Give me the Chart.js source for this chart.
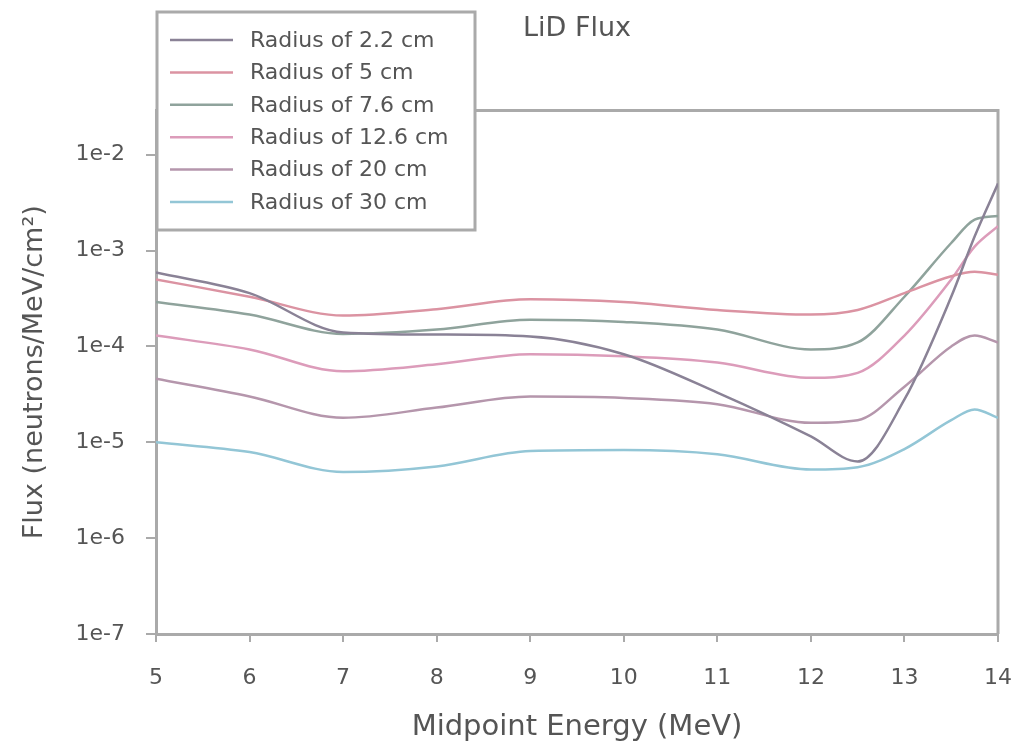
<!DOCTYPE html>
<html>
<head>
<meta charset="utf-8">
<script src="https://cdn.jsdelivr.net/npm/chart.js@4"></script>
<style>
  html, body { margin: 0; padding: 0; background: #fff; }
  #wrap { width: 1019px; height: 745px; }
</style>
</head>
<body>
<div id="wrap"><canvas id="fluxChart" width="1019" height="745"></canvas></div>
<script>
// midpoint energies (MeV) and flux, one array per radius
const energy = [5, 6, 7, 8, 9, 10, 11, 12, 12.5, 13, 13.5, 13.75, 14];

const r2_2 = [5.9e-4, 3.6e-4, 1.4e-4, 1.33e-4, 1.27e-4, 8.3e-5, 3.3e-5, 1.15e-5, 6.3e-6, 2.8e-5, 3.3e-4, 1.4e-3, 5e-3];
const r5 = [5e-4, 3.3e-4, 2.1e-4, 2.45e-4, 3.1e-4, 2.9e-4, 2.4e-4, 2.15e-4, 2.4e-4, 3.6e-4, 5.4e-4, 6e-4, 5.6e-4];
const r7_6 = [2.9e-4, 2.15e-4, 1.35e-4, 1.5e-4, 1.9e-4, 1.8e-4, 1.5e-4, 9.3e-5, 1.1e-4, 3.3e-4, 1.2e-3, 2.1e-3, 2.3e-3];
const r12_6 = [1.3e-4, 9.3e-5, 5.5e-5, 6.5e-5, 8.3e-5, 7.9e-5, 6.8e-5, 4.7e-5, 5.3e-5, 1.3e-4, 5e-4, 1.1e-3, 1.8e-3];
const r20 = [4.6e-5, 3e-5, 1.8e-5, 2.3e-5, 3e-5, 2.9e-5, 2.5e-5, 1.6e-5, 1.7e-5, 3.8e-5, 1e-4, 1.3e-4, 1.1e-4];
const r30 = [1e-5, 7.9e-6, 4.9e-6, 5.6e-6, 8.1e-6, 8.3e-6, 7.5e-6, 5.2e-6, 5.5e-6, 8.5e-6, 1.7e-5, 2.2e-5, 1.8e-5];

const seriesLabels = ['Radius of 2.2 cm', 'Radius of 5 cm', 'Radius of 7.6 cm', 'Radius of 12.6 cm', 'Radius of 20 cm', 'Radius of 30 cm'];
const seriesValues = [r2_2, r5, r7_6, r12_6, r20, r30];
const seriesColors = ['#8a8296', '#db93a2', '#8fa39c', '#dc9cba', '#b596ac', '#93c6d6'];

const yTicks = [1e-2, 1e-3, 1e-4, 1e-5, 1e-6, 1e-7];
const xTicks = [5, 6, 7, 8, 9, 10, 11, 12, 13, 14];

const FONT = "'DejaVu Sans', sans-serif";
const TEXT = '#555';
const AXIS = '#aaa';

// top and right edges of the plot frame
const frame = {
    id: 'frame',
    beforeDatasetsDraw(chart) {
        const { ctx, chartArea: a } = chart;
        ctx.save();
        ctx.strokeStyle = AXIS;
        ctx.lineWidth = 3;
        ctx.beginPath();
        ctx.moveTo(a.left, a.top);
        ctx.lineTo(a.right, a.top);
        ctx.lineTo(a.right, a.bottom);
        ctx.stroke();
        ctx.restore();
    },
};

// boxed legend in the upper left, overlapping the frame
const boxLegend = {
    id: 'boxLegend',
    afterDraw(chart) {
        const ctx = chart.ctx;
        ctx.save();
        ctx.fillStyle = '#fff';
        ctx.fillRect(157, 12, 318, 218);
        ctx.strokeStyle = AXIS;
        ctx.lineWidth = 3;
        ctx.strokeRect(157, 12, 318, 218);
        ctx.font = `22px ${FONT}`;
        ctx.textBaseline = 'middle';
        chart.data.datasets.forEach((ds, i) => {
            const y = 40 + i * 32.4;
            ctx.strokeStyle = ds.borderColor;
            ctx.lineWidth = 2.5;
            ctx.beginPath();
            ctx.moveTo(170, y);
            ctx.lineTo(233, y);
            ctx.stroke();
            ctx.fillStyle = TEXT;
            ctx.fillText(ds.label, 250, y + 1);
        });
        ctx.restore();
    },
};

new Chart(document.getElementById('fluxChart'), {
    type: 'line',
    data: {
        datasets: seriesLabels.map((label, i) => ({
            label: label,
            data: energy.map((e, j) => ({ x: e, y: seriesValues[i][j] })),
            borderColor: seriesColors[i],
            borderWidth: 2.5,
            pointRadius: 0,
            cubicInterpolationMode: 'monotone',
            fill: false,
        })),
    },
    options: {
        responsive: false,
        animation: false,
        layout: { padding: { left: 0, right: 21, top: 0, bottom: 0 } },
        plugins: {
            legend: { display: false },
            tooltip: { enabled: false },
            title: {
                display: true,
                text: 'LiD Flux',
                fullSize: false,
                color: TEXT,
                font: { family: FONT, size: 27, weight: 'normal' },
                padding: { top: 13, bottom: 65 },
            },
        },
        scales: {
            x: {
                type: 'linear',
                min: 5,
                max: 14,
                afterFit: s => {
                    s.height = 111;
                    s.paddingLeft = 0;
                    s.paddingRight = 0;
                },
                afterBuildTicks: s => { s.ticks = xTicks.map(v => ({ value: v })); },
                ticks: {
                    color: TEXT,
                    padding: 23,
                    font: { family: FONT, size: 22 },
                    maxRotation: 0,
                },
                grid: { drawOnChartArea: false, color: AXIS, tickLength: 8, lineWidth: 2 },
                border: { color: AXIS, width: 3 },
                title: {
                    display: true,
                    text: 'Midpoint Energy (MeV)',
                    color: TEXT,
                    font: { family: FONT, size: 29 },
                    padding: { top: 0, bottom: 0 },
                },
            },
            y: {
                type: 'logarithmic',
                min: 1e-7,
                max: 0.029,
                afterFit: s => { s.width = 156; },
                afterBuildTicks: s => { s.ticks = yTicks.map(v => ({ value: v })); },
                ticks: {
                    color: TEXT,
                    padding: 21,
                    font: { family: FONT, size: 22 },
                    callback: v => '1e' + Math.round(Math.log10(v)),
                },
                grid: { drawOnChartArea: false, color: AXIS, tickLength: 10, lineWidth: 2 },
                border: { color: AXIS, width: 3 },
                title: {
                    display: true,
                    text: 'Flux (neutrons/MeV/cm²)',
                    color: TEXT,
                    font: { family: FONT, size: 27 },
                    padding: { top: 19, bottom: 0 },
                },
            },
        },
    },
    plugins: [frame, boxLegend],
});
</script>
</body>
</html>
